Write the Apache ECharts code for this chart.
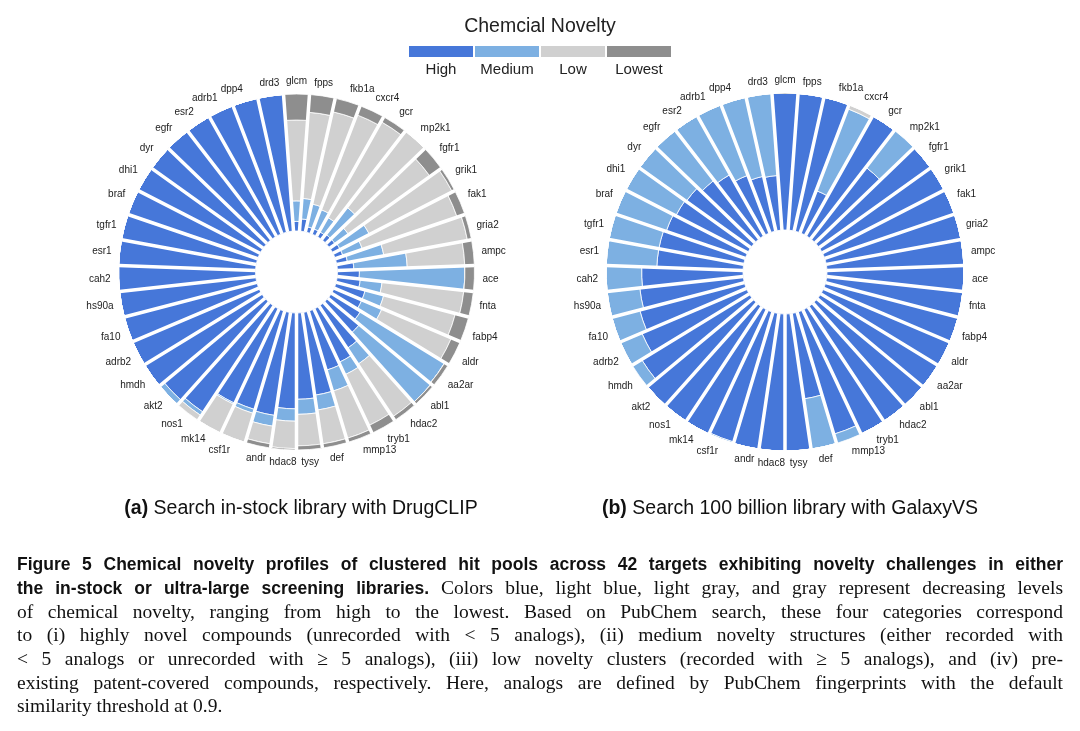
<!DOCTYPE html>
<html>
<head>
<meta charset="utf-8">
<title>Chemical novelty profiles</title>
<script src="https://cdn.jsdelivr.net/npm/echarts@6/dist/echarts.min.js"></script>
<style>
  html, body { margin: 0; padding: 0; background: #fff; }
  #main { width: 1080px; height: 731px; }
</style>
</head>
<body>
<div id="main"></div>
<script>
// targets, clockwise from the top
const targets = ['glcm', 'fpps', 'fkb1a', 'cxcr4', 'gcr', 'mp2k1', 'fgfr1', 'grik1', 'fak1', 'gria2',
  'ampc', 'ace', 'fnta', 'fabp4', 'aldr', 'aa2ar', 'abl1', 'hdac2', 'tryb1', 'mmp13',
  'def', 'tysy', 'hdac8', 'andr', 'csf1r', 'mk14', 'nos1', 'akt2', 'hmdh', 'adrb2',
  'fa10', 'hs90a', 'cah2', 'esr1', 'tgfr1', 'braf', 'dhi1', 'dyr', 'egfr', 'esr2',
  'adrb1', 'dpp4', 'drd3'];
const levels = ['High', 'Medium', 'Low', 'Lowest'];
const levelColors = ['#4677D9', '#7DB0E2', '#D0D0D0', '#8E8E8E'];

// (a) in-stock library, DrugCLIP
const highA = [0.07, 0.09, 0.04, 0.04, 0.04, 0.05, 0.05, 0.06, 0.06, 0.08,
  0.12, 0.16, 0.17, 0.22, 0.22, 0.25, 0.30, 0.37, 0.43, 0.45,
  0.61, 0.63, 0.70, 0.76, 0.75, 0.76, 0.93, 0.96, 1, 1,
  1, 1, 1, 1, 1, 1, 1, 1, 1, 1,
  1, 1, 1];
const medA = [0.15, 0.15, 0.17, 0.15, 0.12, 0.25, 0.12, 0.24, 0.15, 0.27,
  0.39, 0.77, 0.16, 0.14, 0.16, 0.72, 0.68, 0.14, 0.10, 0.16,
  0.11, 0.11, 0.09, 0.08, 0.03, 0.01, 0.03, 0.04, 0, 0,
  0, 0, 0, 0, 0, 0, 0, 0, 0, 0,
  0, 0, 0];
const lowA = [0.59, 0.63, 0.69, 0.74, 0.80, 0.70, 0.73, 0.68, 0.73, 0.62,
  0.42, 0, 0.60, 0.54, 0.55, 0, 0, 0.46, 0.41, 0.36,
  0.25, 0.23, 0.20, 0.13, 0.22, 0.23, 0.04, 0, 0, 0,
  0, 0, 0, 0, 0, 0, 0, 0, 0, 0,
  0, 0, 0];
const lowestA = [0.19, 0.13, 0.10, 0.07, 0.04, 0, 0.10, 0.02, 0.06, 0.03,
  0.07, 0.07, 0.07, 0.10, 0.07, 0.03, 0.02, 0.03, 0.06, 0.03,
  0.03, 0.03, 0.01, 0.03, 0, 0, 0, 0, 0, 0,
  0, 0, 0, 0, 0, 0, 0, 0, 0, 0,
  0, 0, 0];

// (b) 100 billion library, GalaxyVS
const highB = [1, 1, 1, 0.33, 1, 0.66, 1, 1, 1, 1,
  1, 1, 1, 1, 1, 1, 1, 1, 1, 0.93,
  0.63, 1, 1, 1, 0.99, 1, 1, 1, 0.92, 0.83,
  0.79, 0.76, 0.74, 0.63, 0.63, 0.61, 0.59, 0.58, 0.54, 0.51,
  0.45, 0.41, 0.40];
const medB = [0, 0, 0, 0.64, 0, 0.34, 0, 0, 0, 0,
  0, 0, 0, 0, 0, 0, 0, 0, 0, 0.07,
  0.37, 0, 0, 0, 0.01, 0, 0, 0, 0.08, 0.17,
  0.21, 0.24, 0.26, 0.37, 0.37, 0.39, 0.41, 0.42, 0.46, 0.49,
  0.55, 0.59, 0.60];
const lowB = [0, 0, 0, 0.03, 0, 0, 0, 0, 0, 0,
  0, 0, 0, 0, 0, 0, 0, 0, 0, 0,
  0, 0, 0, 0, 0, 0, 0, 0, 0, 0,
  0, 0, 0, 0, 0, 0, 0, 0, 0, 0,
  0, 0, 0];
const lowestB = [0, 0, 0, 0, 0, 0, 0, 0, 0, 0,
  0, 0, 0, 0, 0, 0, 0, 0, 0, 0,
  0, 0, 0, 0, 0, 0, 0, 0, 0, 0,
  0, 0, 0, 0, 0, 0, 0, 0, 0, 0,
  0, 0, 0];

const subTitles = [
  ['(a)', ' Search in-stock library with DrugCLIP'],
  ['(b)', ' Search 100 billion library with GalaxyVS']
];

// caption lines: [bold part, serif part]
const captionLines = [
  ['Figure 5  Chemical novelty profiles of clustered hit pools across 42 targets exhibiting novelty challenges in either', ''],
  ['the in-stock or ultra-large screening libraries.', 'Colors blue, light blue, light gray, and gray represent decreasing levels'],
  ['', 'of chemical novelty, ranging from high to the lowest.  Based on PubChem search, these four categories correspond'],
  ['', 'to (i) highly novel compounds (unrecorded with < 5 analogs), (ii) medium novelty structures (either recorded with'],
  ['', '< 5 analogs or unrecorded with \u2265 5 analogs), (iii) low novelty clusters (recorded with \u2265 5 analogs), and (iv) pre-'],
  ['', 'existing patent-covered compounds, respectively. Here, analogs are defined by PubChem fingerprints with the default'],
  ['', 'similarity threshold at 0.9.']
];

const chart = echarts.init(document.getElementById('main'), null, { renderer: 'canvas' });

const sans = 'Liberation Sans, Arial, sans-serif';
const boldFont = 'bold 17.5px "Liberation Sans"';
const serifFont = '19.5px "Liberation Serif"';

// white split lines on top of the bars give the even gaps between the wedges
function angleAxis(i) {
  return {
    polarIndex: i,
    type: 'category',
    data: targets,
    startAngle: 90 + 180 / targets.length,
    clockwise: true,
    z: 5,
    axisLine: { show: false },
    axisTick: { show: false },
    splitLine: { show: true, interval: 0, lineStyle: { color: '#fff', width: 3.5 } },
    axisLabel: { interval: 0, fontSize: 10, color: '#222', margin: 8, fontFamily: sans }
  };
}
function radiusAxis(i) {
  return {
    polarIndex: i, min: 0, max: 1,
    axisLine: { show: false }, axisTick: { show: false },
    axisLabel: { show: false }, splitLine: { show: false }
  };
}

function buildSeries(i, sets) {
  return sets.map((vals, k) => ({
    name: levels[k],
    type: 'bar',
    coordinateSystem: 'polar',
    polarIndex: i,
    stack: 'chart' + i,
    barCategoryGap: '4%',
    barGap: '-100%',
    data: vals,
    itemStyle: { color: levelColors[k], borderColor: '#fff', borderWidth: 0.8 },
    emphasis: { disabled: true }
  }));
}

// justified caption, laid out word by word
const ctx = document.createElement('canvas').getContext('2d');
function captionGraphics() {
  const left = 17, right = 1063, top = 565, lineH = 23.7;
  const out = [];
  captionLines.forEach((line, li) => {
    const words = [];
    line[0].split(/\s+/).filter(Boolean).forEach(w => words.push({ w: w, font: boldFont }));
    line[1].split(/\s+/).filter(Boolean).forEach(w => words.push({ w: w, font: serifFont }));
    let total = 0;
    words.forEach(o => { ctx.font = o.font; o.width = ctx.measureText(o.w).width; total += o.width; });
    const justify = li < captionLines.length - 1;
    ctx.font = serifFont;
    const gap = justify ? (right - left - total) / (words.length - 1) : ctx.measureText(' ').width;
    let x = left;
    words.forEach(o => {
      out.push({
        type: 'text', x: x, y: top + li * lineH, silent: true,
        style: { text: o.w, font: o.font, fill: '#111', verticalAlign: 'middle' }
      });
      x += o.width + gap;
    });
  });
  return out;
}

function legendGraphics() {
  const x0 = 409, w = 64, gap = 2;
  const out = [];
  levels.forEach((name, k) => {
    const x = x0 + k * (w + gap);
    out.push({ type: 'rect', shape: { x: x, y: 46, width: w, height: 11 }, style: { fill: levelColors[k] }, silent: true });
    out.push({
      type: 'text', x: x + w / 2, y: 70, silent: true,
      style: { text: name, font: '15px "Liberation Sans"', fill: '#222', align: 'center', verticalAlign: 'middle' }
    });
  });
  return out;
}

const subStyle = {
  fontSize: 19.5, fontWeight: 'normal', color: '#111', fontFamily: sans,
  rich: { b: { fontSize: 19.5, fontWeight: 'bold', fontFamily: sans, color: '#111' } }
};

const option = {
  animation: false,
  backgroundColor: '#fff',
  title: [
    { text: 'Chemcial Novelty', left: 'center', top: 12, textStyle: { fontSize: 19.5, fontWeight: 'normal', color: '#222', fontFamily: sans } },
    { text: '{b|' + subTitles[0][0] + '}' + subTitles[0][1], left: 296, top: 494, textAlign: 'center', textStyle: subStyle },
    { text: '{b|' + subTitles[1][0] + '}' + subTitles[1][1], left: 785, top: 494, textAlign: 'center', textStyle: subStyle }
  ],
  polar: [
    { center: [296.5, 272], radius: [41, 178] },
    { center: [785, 272], radius: [42, 179] }
  ],
  angleAxis: [angleAxis(0), angleAxis(1)],
  radiusAxis: [radiusAxis(0), radiusAxis(1)],
  series: buildSeries(0, [highA, medA, lowA, lowestA]).concat(buildSeries(1, [highB, medB, lowB, lowestB])),
  graphic: legendGraphics().concat(captionGraphics())
};

chart.setOption(option);
</script>
</body>
</html>
